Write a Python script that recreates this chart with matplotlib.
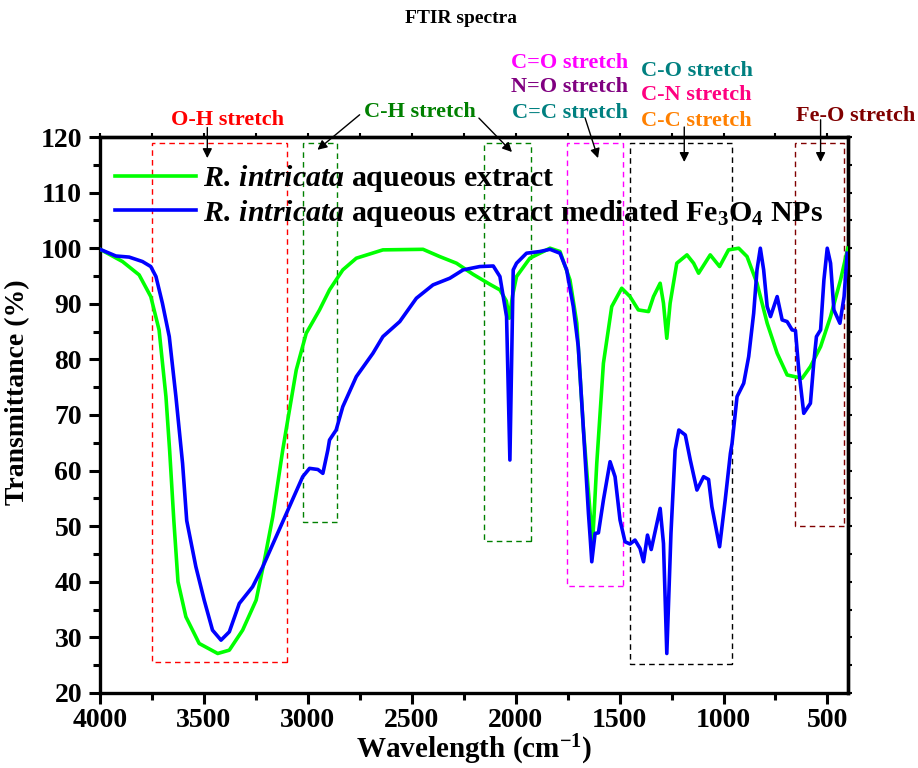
import numpy as np
import matplotlib
matplotlib.use('Agg')
import matplotlib.pyplot as plt
from matplotlib.patches import Rectangle
from matplotlib.ticker import MultipleLocator

plt.rcParams['font.family'] = ['Liberation Serif', 'DejaVu Serif']
plt.rcParams['font.weight'] = 'bold'
plt.rcParams['mathtext.fontset'] = 'custom'
plt.rcParams['mathtext.rm'] = 'Liberation Serif:bold'
plt.rcParams['mathtext.it'] = 'Liberation Serif:italic:bold'
plt.rcParams['mathtext.bf'] = 'Liberation Serif:bold'

# ============================================================================
# spectra (wavenumber in cm-1, transmittance in %)
extract_wn = [4000, 3892, 3812, 3756, 3716, 3683, 3665, 3645, 3625, 3587, 3523,
              3434, 3378, 3314, 3249, 3209, 3169, 3121, 3105, 3056, 3008, 2944,
              2896, 2832, 2767, 2639, 2446, 2366, 2285, 2205, 2124, 2076, 2045,
              2031, 2015, 1996, 1932, 1835, 1787, 1739, 1706, 1674, 1642, 1630,
              1610, 1578, 1538, 1490, 1450, 1410, 1361, 1337, 1305, 1289, 1273,
              1257, 1225, 1176, 1144, 1120, 1064, 1019, 976, 927, 887, 839, 790,
              742, 694, 622, 582, 533, 485, 437, 402]
extract_T = [99.8, 97.6, 95.2, 91.3, 85.3, 73.3, 63.5, 51.0, 40.0, 33.7, 28.9,
             27.1, 27.7, 31.3, 36.7, 43.9, 51.7, 63.7, 67.3, 78.1, 84.7, 88.9,
             92.5, 96.1, 98.2, 99.7, 99.8, 98.5, 97.3, 95.3, 93.5, 92.5, 90.5,
             87.4, 91.5, 94.9, 98.2, 100.0, 99.4, 94.3, 86.5, 67.3, 52.4, 47.0,
             61.3, 79.3, 89.5, 92.8, 91.3, 88.9, 88.6, 91.3, 93.7, 90.1, 83.8,
             90.1, 97.3, 98.8, 97.3, 95.5, 98.8, 96.7, 99.7, 100.0, 98.5, 93.7,
             86.5, 81.1, 77.2, 76.6, 78.7, 82.3, 87.7, 94.3, 100.0]

nps_wn = [4000, 3924, 3860, 3796, 3756, 3731, 3700, 3667, 3635, 3603, 3583,
          3539, 3499, 3459, 3418, 3378, 3330, 3266, 3217, 3153, 3089, 3025,
          2992, 2952, 2928, 2904, 2896, 2864, 2832, 2767, 2687, 2639, 2558,
          2478, 2398, 2317, 2253, 2173, 2108, 2076, 2044, 2028, 2012, 1996,
          1948, 1884, 1835, 1787, 1755, 1723, 1699, 1674, 1650, 1642, 1634,
          1618, 1602, 1578, 1546, 1522, 1498, 1474, 1450, 1426, 1402, 1385,
          1366, 1348, 1305, 1289, 1273, 1253, 1233, 1215, 1184, 1160, 1128,
          1096, 1072, 1056, 1019, 992, 967, 959, 935, 903, 879, 855, 839, 823,
          807, 790, 774, 742, 718, 694, 670, 654, 638, 614, 582, 566, 553, 533,
          517, 501, 485, 469, 440, 420, 405]
nps_T = [99.8, 98.6, 98.4, 97.6, 96.7, 94.9, 90.1, 84.1, 73.3, 61.3, 51.0,
         42.7, 36.7, 31.3, 29.5, 31.0, 36.1, 39.1, 42.7, 48.1, 53.5, 58.9,
         60.4, 60.2, 59.5, 63.7, 65.5, 67.3, 71.5, 76.9, 81.1, 84.1, 86.8,
         91.0, 93.4, 94.6, 96.1, 96.7, 96.8, 94.9, 87.7, 61.9, 96.1, 97.3,
         99.1, 99.4, 99.8, 99.1, 96.1, 89.5, 82.3, 67.3, 52.3, 48.1, 43.6,
         48.7, 48.8, 54.7, 61.6, 58.9, 51.1, 47.2, 46.8, 47.5, 46.0, 43.6,
         48.4, 45.8, 53.2, 46.9, 27.1, 48.7, 63.7, 67.3, 66.4, 61.9, 56.5,
         58.9, 58.4, 53.5, 46.3, 54.7, 63.1, 64.9, 73.3, 75.7, 80.5, 88.3, 96.1,
         100.0, 96.1, 89.5, 87.7, 91.3, 87.1, 86.8, 85.3, 85.2, 78.1, 70.3,
         72.1, 79.3, 84.1, 85.3, 94.3, 100.0, 97.3, 88.9, 86.5, 91.3, 99.1]

labels = [r'$\mathit{R.\,intricata}$ aqueous extract',
          r'$\mathit{R.\,intricata}$ aqueous extract mediated Fe$_3$O$_4$ NPs']

# band regions: (wn_left, wn_right, T_bottom, T_top, colour)
regions = [(3750, 3100, 25.5, 119, '#FF0000'),
           (3025, 2862, 50.8, 119, '#008000'),
           (2152, 1928, 47.4, 119, '#008000'),
           (1752, 1482, 39.2, 119, '#FF00FF'),
           (1448, 958, 25.2, 119, '#000000'),
           (657, 418, 50.1, 119, '#800000')]

# ============================================================================
fig = plt.figure(figsize=(9.18, 7.68), dpi=100)
ax = fig.add_axes([0.109, 0.0977, 0.815, 0.7239])

ax.plot(extract_wn, extract_T, color='#00FF00', lw=2.6, label=labels[0], zorder=3)
ax.plot(nps_wn, nps_T, color='#0000FF', lw=2.6, label=labels[1], zorder=4)

for x0, x1, y0, y1, c in regions:
    ax.add_patch(Rectangle((x1, y0), x0 - x1, y1 - y0, fill=False,
                           edgecolor=c, lw=1.0, ls=(0, (4, 3)), zorder=2))

# band labels + arrows
def label(txt, col, x, y, size=16):
    ax.text(x, y, txt, color=col, fontsize=size, fontweight='bold',
            ha='center', va='center', clip_on=False)

def arrow(x0, y0, x1, y1):
    ax.annotate('', xy=(x1, y1), xytext=(x0, y0), annotation_clip=False,
                arrowprops=dict(arrowstyle='-|>', color='k', lw=1.0,
                                mutation_scale=14, shrinkA=0, shrinkB=0))

label('O-H stretch', '#FF0000', 3388, 123.1)
arrow(3484, 121.7, 3484, 116.2)
label('C-H stretch', '#008000', 2462, 124.5)
arrow(2751, 124.0, 2954, 117.7)
arrow(2177, 123.4, 2018, 117.3)
label('C=O stretch', '#FF00FF', 1739, 133.3)
label('N=O stretch', '#800080', 1739, 129.0)
label('C=C stretch', '#008080', 1739, 124.3)
arrow(1666, 123.4, 1604, 116.2)
label('C-O stretch', '#008080', 1129, 131.9)
label('C-N stretch', '#FF0080', 1129, 127.6)
label('C-C stretch', '#FF8000', 1129, 122.9)
arrow(1189, 121.8, 1189, 115.5)
label('Fe-O stretch', '#800000', 364, 123.8)
arrow(533, 123.1, 533, 115.5)

ax.set_xlim(4000, 400)
ax.set_ylim(20, 120)
ax.xaxis.set_major_locator(MultipleLocator(500))
ax.xaxis.set_minor_locator(MultipleLocator(250))
ax.yaxis.set_major_locator(MultipleLocator(10))
ax.yaxis.set_minor_locator(MultipleLocator(5))
ax.tick_params(which='both', direction='out', width=2.2, labelsize=20)
ax.tick_params(which='major', length=8, pad=5)
ax.tick_params(axis='x', which='major', pad=3)
ax.tick_params(which='minor', length=5)
for lab in ax.get_xticklabels() + ax.get_yticklabels():
    lab.set_fontweight('bold')
for s in ax.spines.values():
    s.set_linewidth(2.4)

# small mirrored ticks on top and right
top = ax.secondary_xaxis('top')
right = ax.secondary_yaxis('right')
top.xaxis.set_major_locator(MultipleLocator(250))
right.yaxis.set_major_locator(MultipleLocator(5))
for sec in (top, right):
    sec.tick_params(which='both', direction='out', length=3, width=1.5,
                    labeltop=False, labelright=False)
    for s in sec.spines.values():
        s.set_linewidth(2.4)

ax.set_xlabel(r'Wavelength (cm$^{-1}$)', fontsize=21, fontweight='bold', labelpad=0)
ax.set_ylabel('Transmittance (%)', fontsize=20, fontweight='bold')
ax.yaxis.set_label_coords(-0.094, 0.541)
fig.text(0.502, 0.976, 'FTIR spectra', fontsize=14, fontweight='bold',
         ha='center', va='center')

ax.legend(loc='upper left', bbox_to_anchor=(0.02, 0.953), frameon=False,
          handlelength=2.7, handletextpad=0.25, labelspacing=0.12,
          borderaxespad=0.0, borderpad=0.0,
          prop={'weight': 'bold', 'size': 21.5})

fig.savefig('out.png', dpi=100)
